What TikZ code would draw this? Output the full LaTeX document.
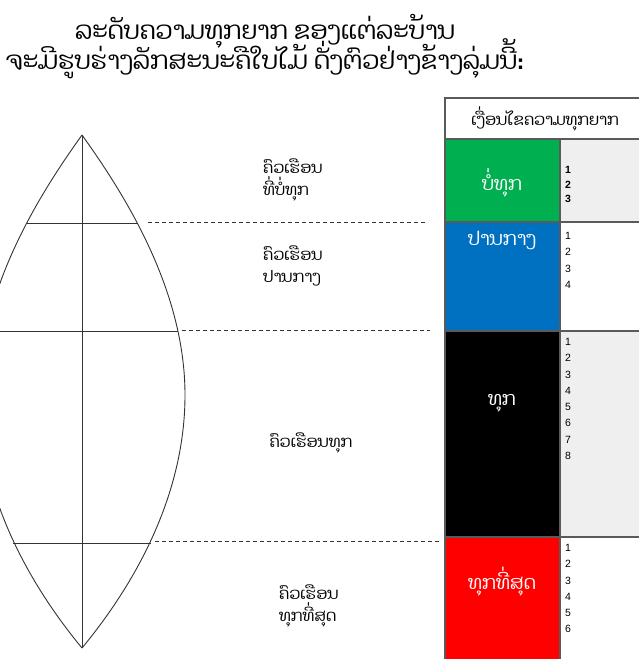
\documentclass[tikz,border=0pt]{standalone}
\usepackage{fontspec}
\setmainfont{Liberation Sans}
\newfontfamily\laofont[Script=Lao]{Dhyana}
\usetikzlibrary{positioning,calc}
\definecolor{CellGreen}{RGB}{0,176,80}
\definecolor{CellBlue}{RGB}{0,112,192}
\definecolor{CellRed}{RGB}{255,0,0}
\definecolor{CellGray}{RGB}{239,239,239}
\definecolor{GridGray}{RGB}{90,90,90}
\newcommand\tightlines{\lineskiplimit=-50pt\relax}
\tikzset{
	leafline/.style={draw=black!80,line width=0.9pt},
	guide/.style={draw=black!80,line width=0.9pt,dash pattern=on 4pt off 3pt},
	cell/.style={draw=GridGray,line width=1.6pt,anchor=north west,inner sep=0pt,outer sep=0pt},
	laotxt/.style={font={\laofont\fontsize{16}{22}\selectfont\tightlines},align=left,inner sep=0pt},
	celltxt/.style={font=\laofont\fontsize{19}{22}\selectfont,text=white,inner sep=0pt},
	nums/.style={font=\fontsize{10.5}{16.3}\selectfont,align=left,inner sep=0pt},
}

\begin{document}
\begin{tikzpicture}[x=1pt,y=-1pt]
	\useasboundingbox (0,0) rectangle (639,659);
	\clip (0,0) rectangle (639,659);
	% title
	\node[font={\laofont\fontsize{25}{30}\selectfont\tightlines},align=center,inner sep=0pt] (title) at (265,47)
		{ລະດັບຄວາມທຸກຍາກ ຂອງແຕ່ລະບ້ານ\\ຈະມີຮູບຮ່າງລັກສະນະຄືໃບໄມ້ ດັ່ງຕົວຢ່າງຂ້າງລຸ່ມນີ້:};
	% leaf
	\coordinate (top) at (82,135);
	\coordinate (bot) at (82,648);
	\draw[leafline] (top) .. controls (125,195) and (185,290) .. (185,395)
		.. controls (185,500) and (130,590) .. (bot);
	\draw[leafline] (top) .. controls (39,195) and (-21,290) .. (-21,395)
		.. controls (-21,500) and (34,590) .. (bot);
	\draw[leafline] (top) -- (bot);
	\draw[leafline] (26,223) -- (138,223);
	\draw[leafline] (-14,331) -- (178,331);
	\draw[leafline] (13,543) -- (151,543);
	% dashed guides
	\coordinate (g1a) at (148,222);
	\coordinate (g1b) at (428,222);
	\coordinate (g2a) at (182,330);
	\coordinate (g2b) at (430,330);
	\coordinate (g3a) at (155,541);
	\coordinate (g3b) at (440,541);
	\draw[guide] (g1a) -- (g1b);
	\draw[guide] (g2a) -- (g2b);
	\draw[guide] (g3a) -- (g3b);
	% household labels
	\node[laotxt,anchor=west] (hh1) at (263,180) {ຄົວເຮືອນ\\ທີ່ບໍ່ທຸກ};
	\node[laotxt,anchor=west] (hh2) at (263,266) {ຄົວເຮືອນ\\ປານກາງ};
	\node[laotxt] (hh3) at (311,443) {ຄົວເຮືອນທຸກ};
	\node[laotxt,anchor=west] (hh4) at (279,606) {ຄົວເຮືອນ\\ທຸກທີ່ສຸດ};
	% table
	\node[cell,fill=white,minimum width=200pt,minimum height=41pt] (head) at (445,98)
		{\laofont\fontsize{16}{18}\selectfont ເງື່ອນໄຂຄວາມທຸກຍາກ};
	\node[cell,fill=CellGreen,minimum width=115pt,minimum height=83pt] (green) at (445,139) {};
	\node[cell,fill=CellGray,minimum width=85pt,minimum height=83pt] (c1) at (560,139) {};
	\node[cell,fill=CellBlue,minimum width=115pt,minimum height=109pt] (blue) at (445,222) {};
	\node[cell,fill=white,minimum width=85pt,minimum height=109pt] (c2) at (560,222) {};
	\node[cell,fill=black,minimum width=115pt,minimum height=206pt] (black) at (445,331) {};
	\node[cell,fill=CellGray,minimum width=85pt,minimum height=206pt] (c3) at (560,331) {};
	\node[cell,fill=CellRed,minimum width=115pt,minimum height=130pt] (red) at (445,537) {};
	\node[cell,fill=white,minimum width=85pt,minimum height=130pt] (c4) at (560,537) {};
	% cell texts
	\node[celltxt] (t1) at (502,183) {ບໍ່ທຸກ};
	\node[celltxt] (t2) at (502,240) {ປານກາງ};
	\node[celltxt] (t3) at (502,403) {ທຸກ};
	\node[celltxt] (t4) at (502,582) {ທຸກທີ່ສຸດ};
	% criteria numbers
	\node[nums,anchor=west,font=\bfseries\fontsize{10.5}{14.5}\selectfont] (n1) at ($(c1.west)+(5,4)$) {1\\2\\3};
	\node[nums,anchor=north west] (n2) at ($(c2.north west)+(5,10)$) {1\\2\\3\\4};
	\node[nums,anchor=north west] (n3) at ($(c3.north west)+(5,7)$) {1\\2\\3\\4\\5\\6\\7\\8};
	\node[nums,anchor=north west] (n4) at ($(c4.north west)+(5,7)$) {1\\2\\3\\4\\5\\6};
\end{tikzpicture}
\end{document}
